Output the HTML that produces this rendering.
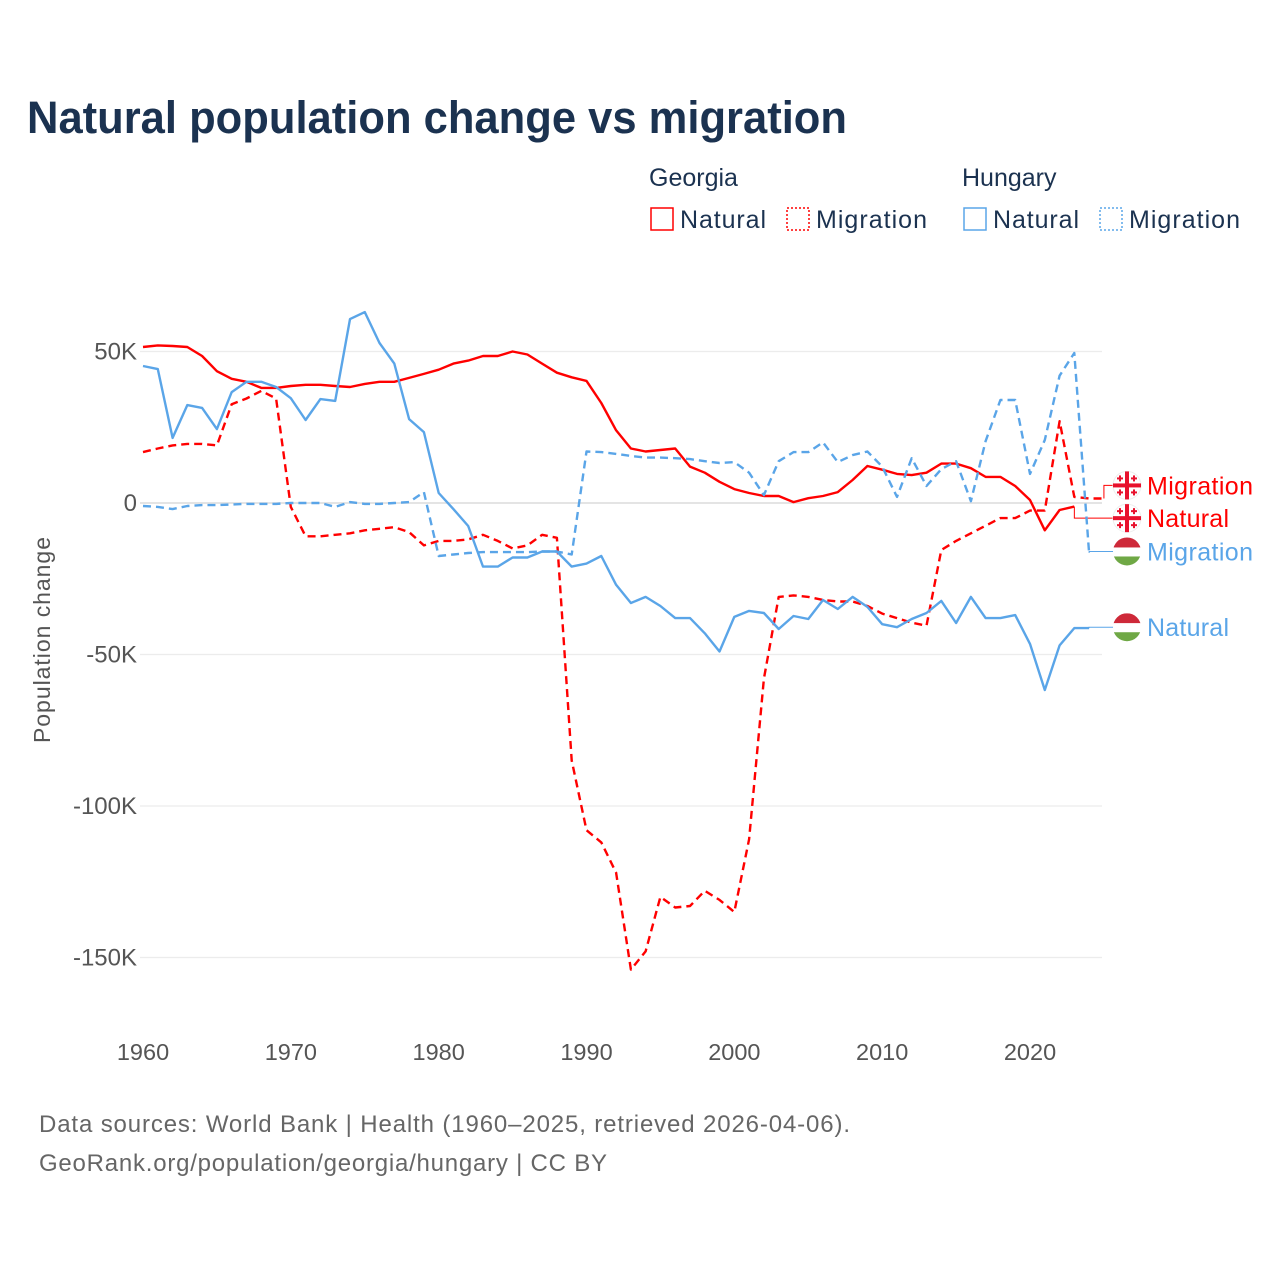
<!DOCTYPE html>
<html><head><meta charset="utf-8"><style>
body{margin:0;background:#fff;font-family:"Liberation Sans",sans-serif}
svg text{font-family:"Liberation Sans",sans-serif}
</style></head><body>
<svg id="chart" width="1280" height="1280" viewBox="0 0 1280 1280">
<text x="27" y="133" font-size="45" font-weight="bold" fill="#1b3250" textLength="820" lengthAdjust="spacingAndGlyphs">Natural population change vs migration</text>
<g>
<text x="649" y="186" font-size="25" fill="#1b3250">Georgia</text>
<text x="962" y="186" font-size="25" fill="#1b3250">Hungary</text>
<g><rect x="651" y="208" width="22" height="22" fill="none" stroke="#f00" stroke-width="1.5"/><text x="680" y="228" font-size="25" fill="#1b3250" textLength="86">Natural</text></g>
<g><rect x="787" y="208" width="22" height="22" fill="none" stroke="#f00" stroke-width="1.5" stroke-dasharray="2,2"/><text x="816" y="228" font-size="25" fill="#1b3250" textLength="111">Migration</text></g>
<g><rect x="964" y="208" width="22" height="22" fill="none" stroke="#5aa5e8" stroke-width="1.5"/><text x="993" y="228" font-size="25" fill="#1b3250" textLength="86">Natural</text></g>
<g><rect x="1100" y="208" width="22" height="22" fill="none" stroke="#5aa5e8" stroke-width="1.5" stroke-dasharray="2,2"/><text x="1129" y="228" font-size="25" fill="#1b3250" textLength="111">Migration</text></g>
</g>
<g id="grid"></g><g id="series"></g><g id="labels"></g>
<text transform="translate(50,640) rotate(-90)" text-anchor="middle" font-size="23" fill="#555" textLength="206">Population change</text>
<text x="39" y="1132" font-size="24" fill="#666" textLength="811">Data sources: World Bank | Health (1960–2025, retrieved 2026-04-06).</text>
<text x="39" y="1171" font-size="24" fill="#666" textLength="568">GeoRank.org/population/georgia/hungary | CC BY</text>
</svg>
<script>
const startYear = 1960;
const yTicks = [50, 0, -50, -100, -150];
const yTickLabels = ["50K", "0", "-50K", "-100K", "-150K"];
const xTicks = [1960, 1970, 1980, 1990, 2000, 2010, 2020];
const geoNatural = [51.5,52,51.8,51.5,48.5,43.5,41,40,38,38,38.6,39,39,38.6,38.3,39.3,40,40,41.3,42.6,44,46,47,48.5,48.5,50,49,46,43,41.5,40.3,33,24,18,17,17.5,18,12,10,7,4.6,3.3,2.3,2.3,0.3,1.6,2.3,3.6,7.6,12.2,11,9.6,9.2,10,13,13,11.5,8.6,8.6,5.6,1,-9,-2.3,-1.2];
const geoMigration = [16.8,18,19,19.5,19.5,19,32.6,34.5,37,34.5,-1.3,-11,-11,-10.5,-10,-9,-8.5,-8,-9.6,-14,-12.5,-12.5,-12,-10.5,-12.5,-15,-14,-10.5,-11.5,-85,-108,-112,-122,-154,-148,-130,-133.5,-133,-128,-131,-135,-111,-58,-31,-30.5,-31,-32,-32.5,-32.5,-34,-36.5,-38,-39.5,-40.5,-15.5,-12.5,-10,-7.5,-5,-5,-2.5,-2.5,27,2,1.5,1.5];
const hunNatural = [45.2,44.2,21.5,32.3,31.4,24.4,36.6,40,40,38.3,34.6,27.4,34.3,33.7,60.7,63,52.8,46,27.7,23.4,3.3,-2,-7.6,-21,-21,-18,-18,-16,-16,-21,-20,-17.5,-27,-33,-31,-34,-38,-38,-43,-49,-37.6,-35.6,-36.3,-41.6,-37.3,-38.3,-32,-35,-31,-34.3,-40,-41,-38.3,-36.3,-32.3,-39.6,-31,-38,-38,-37,-46.5,-61.7,-47,-41.3,-41.3];
const hunMigration = [-1,-1.3,-2,-1,-0.7,-0.7,-0.5,-0.3,-0.3,-0.3,0,0,0,-1.3,0.3,-0.3,-0.3,0,0.3,3.6,-17.5,-17,-16.5,-16.2,-16.2,-16.2,-16.2,-16,-16,-17,17,16.8,16.2,15.5,15,15,14.8,14.5,13.8,13.2,13.5,10,2.6,13.8,16.8,16.8,20,13.5,15.8,17,12,2,14.8,5.6,11.2,13.8,0.6,20.4,34,34,9.6,20.8,42,49.5,-16.5];
const labelValues = [5.8, -5, -16, -41];

const NS="http://www.w3.org/2000/svg";
const X=y=>143+(y-1960)*(1030-143)/60;
const Y=v=>503-v*3.03;
function el(t,a,p){const e=document.createElementNS(NS,t);for(const k in a)e.setAttribute(k,a[k]);p.appendChild(e);return e;}
const grid=document.getElementById('grid');
yTicks.forEach((v,i)=>{
 const l=el('line',{x1:140,x2:1102,y1:Y(v),y2:Y(v),stroke:v===0?'#e4e4e4':'#ececec','stroke-width':v===0?2:1.2},grid);
 
 
 const t=el('text',{x:137,y:Y(v)+8,'text-anchor':'end','font-size':24,fill:'#555'},grid);
 t.textContent=yTickLabels[i];
 
 
});
xTicks.forEach(yr=>{
 const t=el('text',{x:X(yr),y:1060,'text-anchor':'middle','font-size':23.5,fill:'#555'},grid);
 t.textContent=yr;
 
 
});
const series=document.getElementById('series');
const defs=[
 [geoNatural,'#f00',null,'georgia-natural-line',labelValues[1]],
 [geoMigration,'#f00','8,5','georgia-migration-line',labelValues[0]],
 [hunNatural,'#5aa5e8',null,'hungary-natural-line',labelValues[3]],
 [hunMigration,'#5aa5e8','8,5','hungary-migration-line',labelValues[2]]];
defs.forEach(([d,c,dash,name,lv])=>{
 const pts=d.map((v,i)=>X(startYear+i).toFixed(1)+','+Y(v).toFixed(1));
 const a={points:pts.join(' '),fill:'none',stroke:c,'stroke-width':2.4,'stroke-linejoin':'round'};
 if(dash)a['stroke-dasharray']=dash;
 const p=el('polyline',a,series);
 
 
 const lx=X(startYear+d.length-1), ly=Y(d[d.length-1]);
 const cn=el('polyline',{points:`${lx},${ly} ${lx},${Y(lv)} 1114,${Y(lv)}`,fill:'none',stroke:c,'stroke-width':1},series);
 
 
});
const lab=document.getElementById('labels');
const labDefs=[['Migration','#f00','geo',labelValues[0]],['Natural','#f00','geo',labelValues[1]],['Migration','#5aa5e8','hun',labelValues[2]],['Natural','#5aa5e8','hun',labelValues[3]]];
labDefs.forEach(([txt,c,f,v])=>{
 const y=Y(v);
 const g=el('g',{},lab);
 
 
 if(f==='geo'){
  el('circle',{cx:1127,cy:y,r:14,fill:'#fff',stroke:'#eee'},g);
  el('rect',{x:1113,y:y-2,width:28,height:4,fill:'#e8112d'},g);
  el('rect',{x:1125,y:y-14,width:4,height:28,fill:'#e8112d'},g);
  [[-7,-7],[7,-7],[-7,7],[7,7]].forEach(([dx,dy])=>{el('rect',{x:1127+dx-3,y:y+dy-1,width:6,height:2,fill:'#e8112d'},g);el('rect',{x:1127+dx-1,y:y+dy-3,width:2,height:6,fill:'#e8112d'},g);});
 } else {
  el('clipPath',{id:'hc'+v},g);
  const cp=g.lastChild; el('circle',{cx:1127,cy:y,r:14},cp);
  el('rect',{x:1113,y:y-14,width:28,height:10,fill:'#ce2939','clip-path':`url(#hc${v})`},g);
  el('rect',{x:1113,y:y-4,width:28,height:9,fill:'#fff','clip-path':`url(#hc${v})`},g);
  el('rect',{x:1113,y:y+5,width:28,height:10,fill:'#6fa845','clip-path':`url(#hc${v})`},g);
 }
 const t=el('text',{x:1147,y:y+9,'font-size':25,fill:c,textLength:(txt==='Migration'?106:82)},g);
 t.textContent=txt;
});
</script>
</body></html>
